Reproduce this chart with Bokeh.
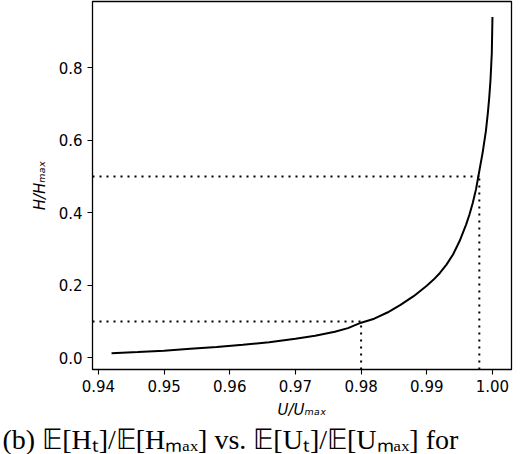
from bokeh.plotting import figure
from bokeh.models import Range1d, FixedTicker, PrintfTickFormatter, Title
from bokeh.embed import file_html
from bokeh.resources import INLINE

# curve data
u_ratio = [0.942, 0.946, 0.950, 0.954, 0.958, 0.962, 0.966, 0.970, 0.973, 0.976,
           0.978, 0.980, 0.982, 0.984, 0.986, 0.988, 0.990, 0.991, 0.992, 0.993,
           0.994, 0.995, 0.996, 0.9965, 0.997, 0.9975, 0.998, 0.9985, 0.999,
           0.9993, 0.9995, 0.9997, 0.9999, 1.000]
h_ratio = [0.013, 0.016, 0.020, 0.025, 0.030, 0.036, 0.043, 0.053, 0.061, 0.072,
           0.082, 0.097, 0.108, 0.125, 0.146, 0.170, 0.199, 0.215, 0.234, 0.257,
           0.285, 0.322, 0.368, 0.395, 0.427, 0.465, 0.515, 0.565, 0.625,
           0.675, 0.715, 0.765, 0.840, 0.939]

# reference levels (dotted guides)
guide_u = [0.980, 0.998]
guide_h = [0.1, 0.5]

x_ticks = [0.94, 0.95, 0.96, 0.97, 0.98, 0.99, 1.00]
y_ticks = [0.0, 0.2, 0.4, 0.6, 0.8]

caption_text = "(b) 𝔼[Hₜ]/𝔼[Hₘₐₓ] vs. 𝔼[Uₜ]/𝔼[Uₘₐₓ] for"

x_lo, x_hi = 0.9391, 1.0029
y_lo, y_hi = -0.032, 0.982

p = figure(width=532, height=454, output_backend="svg", toolbar_location=None,
           x_range=Range1d(x_lo, x_hi), y_range=Range1d(y_lo, y_hi),
           min_border_left=92, min_border_right=21, min_border_top=1,
           min_border_bottom=84)

p.grid.visible = False
p.outline_line_color = "black"
p.outline_line_width = 1.3
p.outline_line_alpha = 1.0

for ax in (p.xaxis[0], p.yaxis[0]):
    ax.axis_line_color = None
    ax.major_tick_line_color = "black"
    ax.major_tick_line_width = 1.1
    ax.major_tick_out = 5
    ax.major_tick_in = 0
    ax.minor_tick_line_color = None
    ax.major_label_text_font = "DejaVu Sans"
    ax.major_label_text_font_size = "15px"
    ax.major_label_text_color = "black"
    ax.major_label_standoff = 5
    ax.axis_label_text_font = "DejaVu Sans"
    ax.axis_label_text_font_size = "15px"
    ax.axis_label_text_font_style = "italic"
    ax.axis_label_text_color = "black"

p.xaxis.ticker = FixedTicker(ticks=x_ticks)
p.yaxis.ticker = FixedTicker(ticks=y_ticks)
p.xaxis.formatter = PrintfTickFormatter(format="%.2f")
p.yaxis.formatter = PrintfTickFormatter(format="%.1f")
p.xaxis.axis_label = "U/Uₘₐₓ"
p.yaxis.axis_label = "H/Hₘₐₓ"
p.xaxis.axis_label_standoff = 6
p.yaxis.axis_label_standoff = 7

# dotted guides
for gu, gh in zip(guide_u, guide_h):
    p.line([x_lo, gu], [gh, gh], line_color="black", line_width=2, line_dash="2 5")
    p.line([gu, gu], [y_lo, gh], line_color="black", line_width=2, line_dash="2 5")

p.line(u_ratio, h_ratio, line_color="black", line_width=2)

caption = Title(text=caption_text, align="left", offset=-90, standoff=0,
                text_font="Liberation Serif", text_font_size="28px",
                text_font_style="normal", text_color="black")
p.add_layout(caption, "below")

open("out.html", "w").write(file_html(p, INLINE))
